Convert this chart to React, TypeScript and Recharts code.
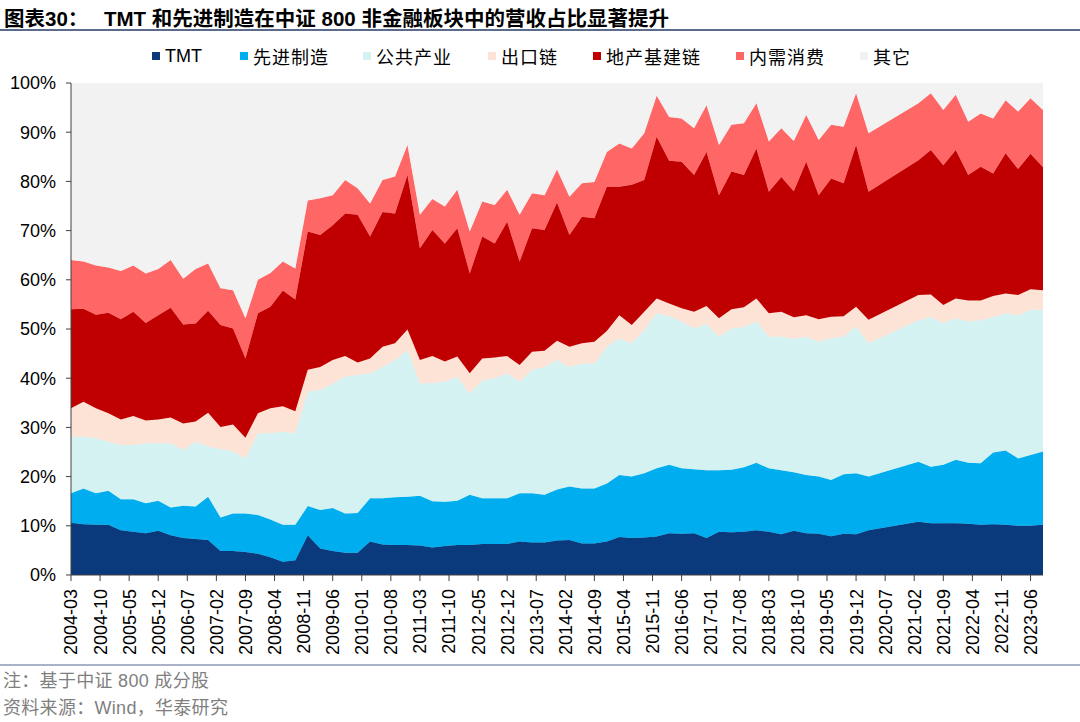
import { AreaChart, Area, XAxis, YAxis } from "recharts";

// quarter-end report dates (2020-06 .. 2020-12 have no points in the source)
const quarters = [
  "2004-03", "2004-06", "2004-09", "2004-12",
  "2005-03", "2005-06", "2005-09", "2005-12",
  "2006-03", "2006-06", "2006-09", "2006-12",
  "2007-03", "2007-06", "2007-09", "2007-12",
  "2008-03", "2008-06", "2008-09", "2008-12",
  "2009-03", "2009-06", "2009-09", "2009-12",
  "2010-03", "2010-06", "2010-09", "2010-12",
  "2011-03", "2011-06", "2011-09", "2011-12",
  "2012-03", "2012-06", "2012-09", "2012-12",
  "2013-03", "2013-06", "2013-09", "2013-12",
  "2014-03", "2014-06", "2014-09", "2014-12",
  "2015-03", "2015-06", "2015-09", "2015-12",
  "2016-03", "2016-06", "2016-09", "2016-12",
  "2017-03", "2017-06", "2017-09", "2017-12",
  "2018-03", "2018-06", "2018-09", "2018-12",
  "2019-03", "2019-06", "2019-09", "2019-12",
  "2020-03",
  "2021-03", "2021-06", "2021-09", "2021-12",
  "2022-03", "2022-06", "2022-09", "2022-12",
  "2023-03", "2023-06", "2023-09",
];

const tmt = [
  10.6, 10.3, 10.2, 10.2, 9.1, 8.8, 8.5, 9.0, 8.1, 7.5, 7.3, 7.1,
  4.9, 4.9, 4.7, 4.3, 3.6, 2.7, 3.0, 8.1, 5.4, 4.9, 4.5, 4.5,
  6.8, 6.2, 6.1, 6.1, 6.0, 5.6, 5.9, 6.1, 6.1, 6.3, 6.3, 6.3,
  6.8, 6.6, 6.6, 7.0, 7.1, 6.4, 6.4, 6.8, 7.7, 7.5, 7.6, 7.8,
  8.5, 8.4, 8.5, 7.5, 8.8, 8.7, 8.8, 9.1, 8.8, 8.3, 9.0, 8.5,
  8.4, 7.9, 8.4, 8.3, 9.1,
  10.8, 10.5, 10.5, 10.5, 10.4, 10.2, 10.3, 10.2, 10.0, 10.0, 10.2,
];

const advanced = [
  6.0, 7.3, 6.4, 6.9, 6.3, 6.6, 6.1, 6.1, 5.6, 6.6, 6.6, 8.8,
  6.8, 7.6, 7.8, 7.9, 7.7, 7.5, 7.2, 5.9, 7.8, 8.7, 8.0, 8.1,
  8.8, 9.4, 9.7, 9.8, 10.1, 9.4, 9.0, 9.0, 10.2, 9.3, 9.3, 9.3,
  9.8, 10.0, 9.7, 10.4, 10.9, 11.2, 11.2, 11.8, 12.6, 12.5, 13.1, 13.9,
  13.9, 13.3, 13.0, 13.8, 12.5, 12.7, 13.1, 13.7, 12.9, 13.0, 11.9, 11.8,
  11.6, 11.4, 12.1, 12.4, 10.9,
  12.2, 11.5, 11.9, 12.9, 12.4, 12.5, 14.6, 15.1, 13.7, 14.4, 14.9,
];

const utilities = [
  11.5, 10.5, 11.2, 10.0, 11.0, 11.0, 12.2, 11.7, 13.1, 11.3, 13.2, 10.2,
  13.9, 12.6, 11.2, 16.6, 17.5, 18.9, 18.6, 23.3, 24.4, 25.3, 27.8, 28.1,
  25.4, 26.7, 27.9, 29.8, 22.8, 24.0, 24.4, 25.2, 20.6, 24.0, 24.4, 25.4,
  22.7, 25.1, 26.0, 26.3, 24.3, 25.4, 25.4, 27.8, 27.8, 27.1, 29.1, 31.5,
  30.2, 29.8, 28.6, 29.7, 27.1, 28.7, 28.5, 28.7, 26.7, 27.1, 27.1, 28.1,
  27.4, 28.8, 27.9, 29.8, 27.1,
  28.8, 30.4, 28.8, 28.8, 28.7, 29.1, 27.5, 27.9, 29.1, 29.5, 28.8,
];

const exportChain = [
  5.8, 7.1, 6.1, 5.8, 5.2, 5.9, 4.6, 4.8, 5.2, 5.4, 4.1, 6.9,
  4.5, 5.5, 4.2, 4.1, 5.1, 5.2, 4.5, 4.4, 4.7, 4.8, 4.2, 2.5,
  3.0, 4.1, 3.4, 4.2, 4.8, 5.5, 4.1, 4.1, 4.1, 4.4, 4.2, 3.5,
  3.4, 3.7, 3.3, 3.9, 4.1, 4.1, 4.4, 3.2, 4.7, 3.7, 3.7, 3.0,
  2.6, 2.7, 3.4, 3.7, 3.8, 3.9, 4.0, 4.7, 4.8, 5.1, 4.4, 4.4,
  4.6, 4.4, 4.2, 4.0, 4.8,
  5.1, 4.6, 3.7, 4.0, 4.3, 4.0, 4.3, 4.0, 4.1, 4.2, 4.0,
];

const property = [
  20.1, 18.9, 19.0, 20.4, 20.4, 21.2, 19.8, 21.2, 22.3, 20.1, 19.9, 20.7,
  20.7, 19.5, 16.1, 20.3, 20.6, 23.5, 22.7, 28.1, 26.8, 27.4, 29.0, 30.0,
  24.8, 27.4, 26.4, 31.4, 22.7, 25.6, 24.0, 26.1, 20.3, 24.8, 23.2, 27.3,
  21.0, 25.1, 24.5, 28.1, 22.7, 25.7, 25.1, 29.3, 26.1, 28.5, 26.8, 32.9,
  29.0, 29.8, 27.8, 31.3, 25.0, 28.0, 26.9, 30.5, 24.7, 27.4, 25.6, 31.2,
  25.2, 28.1, 27.0, 32.9, 26.0,
  27.4, 29.4, 28.4, 30.2, 25.5, 27.2, 24.9, 28.5, 25.6, 27.5, 25.0,
];

const consumption = [
  10.0, 9.6, 10.0, 9.2, 9.8, 9.4, 10.1, 9.4, 9.7, 9.3, 11.1, 9.6,
  7.5, 7.8, 8.2, 6.8, 6.9, 5.9, 6.3, 6.3, 7.5, 6.1, 6.8, 5.4,
  6.7, 6.5, 7.5, 6.1, 6.8, 6.3, 7.5, 7.8, 8.5, 7.1, 7.8, 6.5,
  9.5, 7.1, 7.1, 6.7, 7.8, 6.8, 7.4, 7.1, 8.8, 7.4, 9.5, 8.3,
  8.9, 8.8, 9.5, 9.5, 10.2, 9.5, 10.5, 9.2, 10.2, 9.9, 10.2, 9.5,
  11.2, 10.9, 11.5, 10.5, 11.9,
  11.6, 11.5, 11.2, 11.2, 10.8, 10.8, 11.2, 10.8, 11.7, 11.3, 11.6,
];

const others = [
  36.0, 36.3, 37.1, 37.5, 38.2, 37.1, 38.7, 37.8, 36.0, 39.8, 37.8, 36.7,
  41.7, 42.1, 47.8, 40.0, 38.6, 36.3, 37.7, 23.9, 23.4, 22.8, 19.7, 21.4,
  24.5, 19.7, 19.0, 12.6, 26.8, 23.6, 25.1, 21.7, 30.2, 24.1, 24.8, 21.7,
  26.8, 22.4, 22.8, 17.6, 23.1, 20.4, 20.1, 14.0, 12.3, 13.3, 10.2, 2.6,
  6.9, 7.2, 9.2, 4.5, 12.6, 8.5, 8.2, 4.1, 11.9, 9.2, 11.8, 6.5,
  11.6, 8.5, 8.9, 2.1, 10.2,
  4.1, 2.1, 5.5, 2.4, 7.9, 6.2, 7.2, 3.5, 5.8, 3.1, 5.5,
];

const tickLabels = [
  "2004-03", "2004-10", "2005-05", "2005-12", "2006-07", "2007-02",
  "2007-09", "2008-04", "2008-11", "2009-06", "2010-01", "2010-08",
  "2011-03", "2011-10", "2012-05", "2012-12", "2013-07", "2014-02",
  "2014-09", "2015-04", "2015-11", "2016-06", "2017-01", "2017-08",
  "2018-03", "2018-10", "2019-05", "2019-12", "2020-07", "2021-02",
  "2021-09", "2022-04", "2022-11", "2023-06",
];

const yTicks = [0, 10, 20, 30, 40, 50, 60, 70, 80, 90, 100];

const series = [
  { key: "tmt", name: "TMT", color: "#0A3A7C" },
  { key: "advanced", name: "先进制造", color: "#00AEEF" },
  { key: "utilities", name: "公共产业", color: "#D5F2F3" },
  { key: "exportChain", name: "出口链", color: "#FCE3D6" },
  { key: "property", name: "地产基建链", color: "#C00000" },
  { key: "consumption", name: "内需消费", color: "#FF6666" },
  { key: "others", name: "其它", color: "#F2F2F2" },
];

const FONT = "'Liberation Sans', Arial, 'Noto Sans CJK SC', sans-serif";

// months since 2004-03, used as the x position on a date-like axis
const monthIndex = (s: string) => {
  const [y, m] = s.split("-").map(Number);
  return (y - 2004) * 12 + (m - 3);
};

const tickMonths = tickLabels.map(monthIndex);

const chartData = quarters.map((q, i) => ({
  m: monthIndex(q),
  date: q,
  tmt: tmt[i],
  advanced: advanced[i],
  utilities: utilities[i],
  exportChain: exportChain[i],
  property: property[i],
  consumption: consumption[i],
  others: others[i],
}));

const XTick = (props: any) => {
  const { x, y, payload } = props;
  const idx = tickMonths.indexOf(payload.value);
  return (
    <g transform={`translate(${x},${y})`}>
      <text
        transform="rotate(-90)"
        x={-6}
        y={0}
        dy="0.36em"
        textAnchor="end"
        fontSize={18}
        fontFamily={FONT}
        fill="#000"
      >
        {idx >= 0 ? tickLabels[idx] : ""}
      </text>
    </g>
  );
};

const legendX = [152, 240, 363, 488, 593, 736, 860];

const titleStyle = {
  position: "absolute" as const,
  top: 2,
  fontSize: 20.5,
  fontWeight: 700,
  color: "#000",
  whiteSpace: "nowrap" as const,
  letterSpacing: 0,
};

const noteStyle = {
  position: "absolute" as const,
  left: 3,
  fontSize: 18,
  color: "#7F7F7F",
  whiteSpace: "nowrap" as const,
  letterSpacing: 0.3,
};

export default function App() {
  return (
    <div
      style={{
        position: "absolute",
        left: 0,
        top: 0,
        width: 1080,
        height: 722,
        background: "#fff",
        fontFamily: FONT,
        overflow: "hidden",
      }}
    >
      <div style={{ ...titleStyle, left: 4 }}>图表30：</div>
      <div style={{ ...titleStyle, left: 104 }}>
        TMT 和先进制造在中证 800 非金融板块中的营收占比显著提升
      </div>
      <div
        style={{
          position: "absolute",
          left: 0,
          top: 29,
          width: 1080,
          height: 2,
          background: "#5A6B8C",
        }}
      />

      <div style={{ position: "absolute", left: 0, top: 0 }}>
        <AreaChart
          width={1080}
          height={665}
          data={chartData}
          margin={{ top: 83, right: 37, left: 0, bottom: 0 }}
        >
          <XAxis
            type="number"
            dataKey="m"
            domain={[0, monthIndex(quarters[quarters.length - 1])]}
            ticks={tickMonths}
            interval={0}
            allowDataOverflow
            height={90}
            tickSize={6}
            tick={<XTick />}
            axisLine={{ stroke: "#404040" }}
            tickLine={{ stroke: "#404040" }}
          />
          <YAxis
            type="number"
            domain={[0, 100]}
            ticks={yTicks}
            interval={0}
            allowDataOverflow
            width={71}
            tickSize={5}
            tickMargin={10}
            tickFormatter={(v: number) => `${v}%`}
            tick={{ fontSize: 18, fill: "#000", fontFamily: FONT }}
            axisLine={{ stroke: "#404040" }}
            tickLine={{ stroke: "#404040" }}
          />
          {series.map((s) => (
            <Area
              key={s.key}
              type="linear"
              dataKey={s.key}
              name={s.name}
              stackId="1"
              stroke={s.color}
              strokeWidth={0.6}
              fill={s.color}
              fillOpacity={1}
              dot={false}
              activeDot={false}
              isAnimationActive={false}
            />
          ))}
        </AreaChart>
      </div>

      {series.map((s, i) => (
        <div
          key={s.key}
          style={{
            position: "absolute",
            left: legendX[i],
            top: 45,
            height: 22,
            display: "flex",
            alignItems: "center",
            fontSize: 18,
            letterSpacing: s.key === "tmt" ? 0 : 1,
            color: "#000",
            whiteSpace: "nowrap",
          }}
        >
          <span
            style={{
              display: "inline-block",
              width: 8,
              height: 8,
              background: s.color,
              marginRight: 5,
            }}
          />
          {s.name}
        </div>
      ))}

      <div
        style={{
          position: "absolute",
          left: 0,
          top: 664,
          width: 1080,
          height: 2,
          background: "#A9B2C6",
        }}
      />
      <div style={{ ...noteStyle, top: 666 }}>注：基于中证 800 成分股</div>
      <div style={{ ...noteStyle, top: 693 }}>资料来源：Wind，华泰研究</div>
    </div>
  );
}
